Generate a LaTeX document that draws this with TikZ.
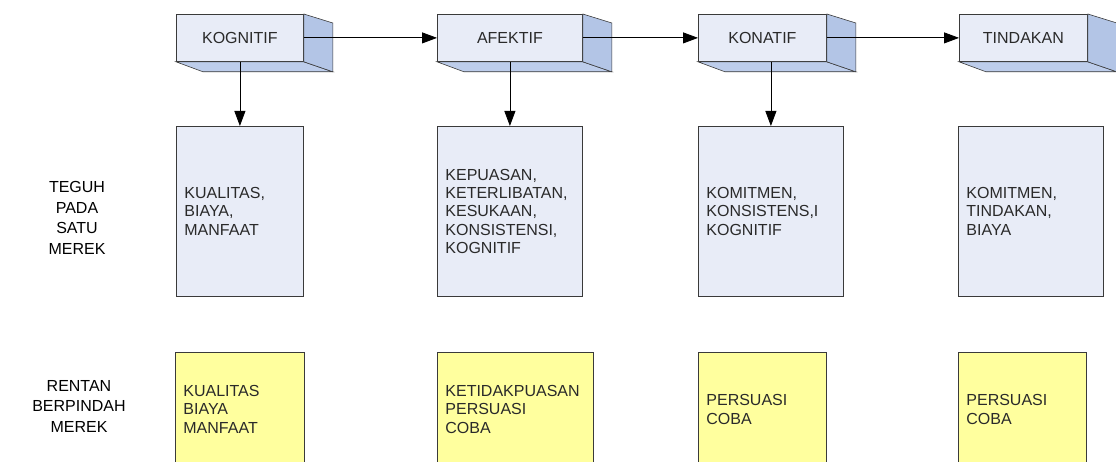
\documentclass[tikz,border=0pt]{standalone}
\usepackage{fontspec}
\setmainfont{Liberation Sans}
\usetikzlibrary{arrows.meta}
\definecolor{faceblue}{HTML}{E8ECF7}
\definecolor{sideblue}{HTML}{B3C5E6}
\definecolor{bottomblue}{HTML}{BDCDEB}
\definecolor{noteyellow}{HTML}{FFFF9E}
\definecolor{edge}{HTML}{3A3A3A}
\definecolor{ink}{HTML}{2A2A2A}

% side and bottom faces of a raised stage box
\newcommand{\extrude}[1]{%
  \draw[edge, line width=0.6pt, fill=bottomblue]
    (#1.south west) -- ++(27,10) -- ([shift={(29,10)}]#1.south east) -- (#1.south east) -- cycle;
  \draw[edge, line width=0.6pt, fill=sideblue]
    (#1.north east) -- ++(29,9) -- ([shift={(29,10)}]#1.south east) -- (#1.south east) -- cycle;
}

\begin{document}
\begin{tikzpicture}[x=1pt, y=-1pt,
  stage/.style={draw=edge, line width=0.8pt, fill=faceblue, minimum height=47pt,
    inner sep=0pt, anchor=north west, text=ink, font=\fontsize{16}{18.4}\selectfont},
  detail/.style={draw=edge, line width=0.8pt, fill=faceblue, minimum height=170pt,
    inner xsep=8pt, inner ysep=0pt, align=left, anchor=north west, text=ink,
    font=\fontsize{16}{18.4}\selectfont},
  note/.style={detail, fill=noteyellow, minimum height=114pt},
  rowlabel/.style={align=center, text=black, font=\fontsize{16}{20.5}\selectfont},
  flow/.style={draw=black, line width=0.8pt, -{Triangle[length=15pt, width=11pt]}},
]
\useasboundingbox (0,0) rectangle (1116,462);

% stages along the top
\node[stage, minimum width=127pt] (kog) at (176,14) {KOGNITIF};
\node[stage, minimum width=145pt] (afe) at (437,14) {AFEKTIF};
\node[stage, minimum width=128pt] (kon) at (698,14) {KONATIF};
\node[stage, minimum width=128pt] (tin) at (959,14) {TINDAKAN};
\extrude{kog}
\extrude{afe}
\extrude{kon}
\extrude{tin}

% loyal row
\node[detail, text width=111pt] (d1) at (176,126) {KUALITAS,\\BIAYA,\\MANFAAT};
\node[detail, text width=129pt] (d2) at (437,126) {KEPUASAN,\\KETERLIBATAN,\\KESUKAAN,\\KONSISTENSI,\\KOGNITIF};
\node[detail, text width=129pt] (d3) at (698,126) {KOMITMEN,\\KONSISTENS,I\\KOGNITIF};
\node[detail, text width=129pt] (d4) at (958,126) {KOMITMEN,\\TINDAKAN,\\BIAYA};

% switching row
\node[note, text width=113pt] (n1) at (175,352) {KUALITAS\\BIAYA\\MANFAAT};
\node[note, text width=140pt] (n2) at (437,352) {KETIDAKPUASAN\\PERSUASI\\COBA};
\node[note, text width=112pt] (n3) at (698,352) {PERSUASI\\COBA};
\node[note, text width=112pt] (n4) at (958,352) {PERSUASI\\COBA};

% row labels
\node[rowlabel] (l1) at (77,218) {TEGUH\\PADA\\SATU\\MEREK};
\node[rowlabel] (l2) at (79,406) {RENTAN\\BERPINDAH\\MEREK};

% connectors
\draw[flow] (kog.east) -- (afe.west);
\draw[flow] (afe.east) -- (kon.west);
\draw[flow] (kon.east) -- (tin.west);
\draw[flow] (kog.south) -- (d1.north);
\draw[flow] (afe.south) -- (d2.north);
\draw[flow] (kon.south -| d3.north) -- (d3.north);
\end{tikzpicture}
\end{document}
